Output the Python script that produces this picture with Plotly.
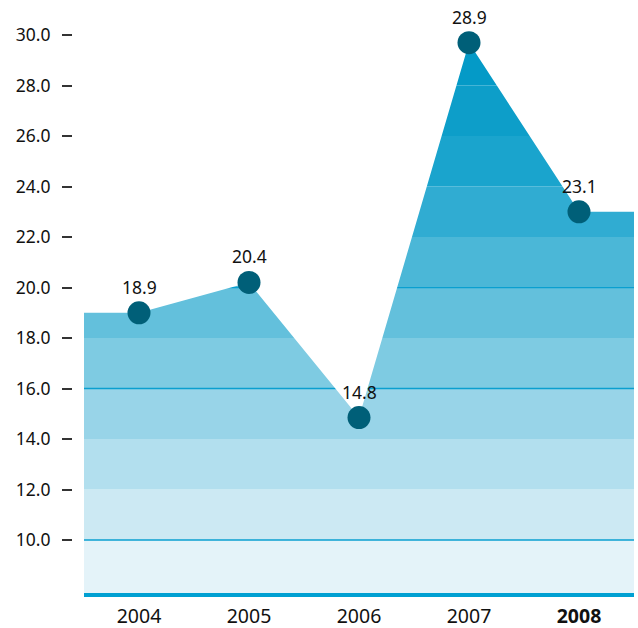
import plotly.graph_objects as go

years = ["2004", "2005", "2006", "2007", "2008"]
values = [19.0, 20.2, 14.85, 29.7, 23.0]          # plotted positions
labels = ["18.9", "20.4", "14.8", "28.9", "23.1"]  # printed labels
y_ticks = [10, 12, 14, 16, 18, 20, 22, 24, 26, 28, 30]
band_edges = [7.9, 10, 12, 14, 16, 18, 20, 22, 24, 26, 28, 30, 32]
band_colors = ["#e4f3f9", "#cce9f3", "#b2dfee", "#98d4e8", "#7ecbe2", "#63c0dc",
               "#4bb7d7", "#30acd2", "#1aa4cd", "#0d9ec9", "#049ac7", "#049ac7"]
grid_values = [10, 16, 20]

FONT = "Noto Sans"
n = len(years)
xs = list(range(n))
x_left, x_right = -0.5, n - 0.5
y_range = [7.9, 31.39]

fig = go.Figure()

shapes = []
for i, c in enumerate(band_colors):
    shapes.append(dict(type="rect", xref="x", yref="y", layer="below",
                       x0=x_left, x1=x_right, y0=band_edges[i], y1=band_edges[i + 1],
                       fillcolor=c, line=dict(width=0)))
for g in grid_values:
    shapes.append(dict(type="line", xref="x", yref="y", layer="below",
                       x0=x_left, x1=x_right, y0=g, y1=g,
                       line=dict(color="#0a9fd0", width=1.3)))

# white mask above the curve
top = 40
mx = [x_left, x_left] + xs + [x_right, x_right]
my = [top, values[0]] + values + [values[-1], top]
fig.add_trace(go.Scatter(x=mx, y=my, mode="lines", fill="toself", fillcolor="white",
                         line=dict(width=0, color="white"), hoverinfo="skip", showlegend=False))

fig.add_trace(go.Scatter(x=xs, y=values, mode="markers",
                         marker=dict(size=23, color="#005f78"),
                         hoverinfo="skip", showlegend=False))

annotations = [dict(x=x, y=v, xref="x", yref="y", text=t, showarrow=False,
                    yshift=26, yanchor="middle", xanchor="center",
                    font=dict(family=FONT, size=17.5, color="#111111"))
               for x, v, t in zip(xs, values, labels)]

ticktext_x = [f"<b>{y}</b>" if i == n - 1 else y for i, y in enumerate(years)]

fig.update_layout(
    width=638, height=628,
    margin=dict(l=72, r=4, t=0, b=35),
    paper_bgcolor="white", plot_bgcolor="white",
    shapes=shapes, annotations=annotations,
    font=dict(family=FONT, color="#111111"),
    xaxis=dict(range=[x_left, x_right], domain=[12 / 562, 1], automargin=False,
               tickmode="array", tickvals=xs, ticktext=ticktext_x,
               showgrid=False, zeroline=False,
               showline=True, linecolor="#00a0d2", linewidth=4,
               ticks="", ticklabelstandoff=3,
               tickfont=dict(family=FONT, size=19.5, color="#111111")),
    yaxis=dict(range=y_range, anchor="free", position=0, automargin=False,
               tickmode="array", tickvals=y_ticks,
               ticktext=[f"{v:.1f}" for v in y_ticks],
               showgrid=False, zeroline=False, showline=False,
               ticks="outside", ticklen=10, tickwidth=1.5, tickcolor="#333",
               ticklabelstandoff=8,
               tickfont=dict(family=FONT, size=17.5, color="#111111")),
)

fig.write_html("out.html", config={"displayModeBar": False},
               post_script="document.body.style.margin='0';")
